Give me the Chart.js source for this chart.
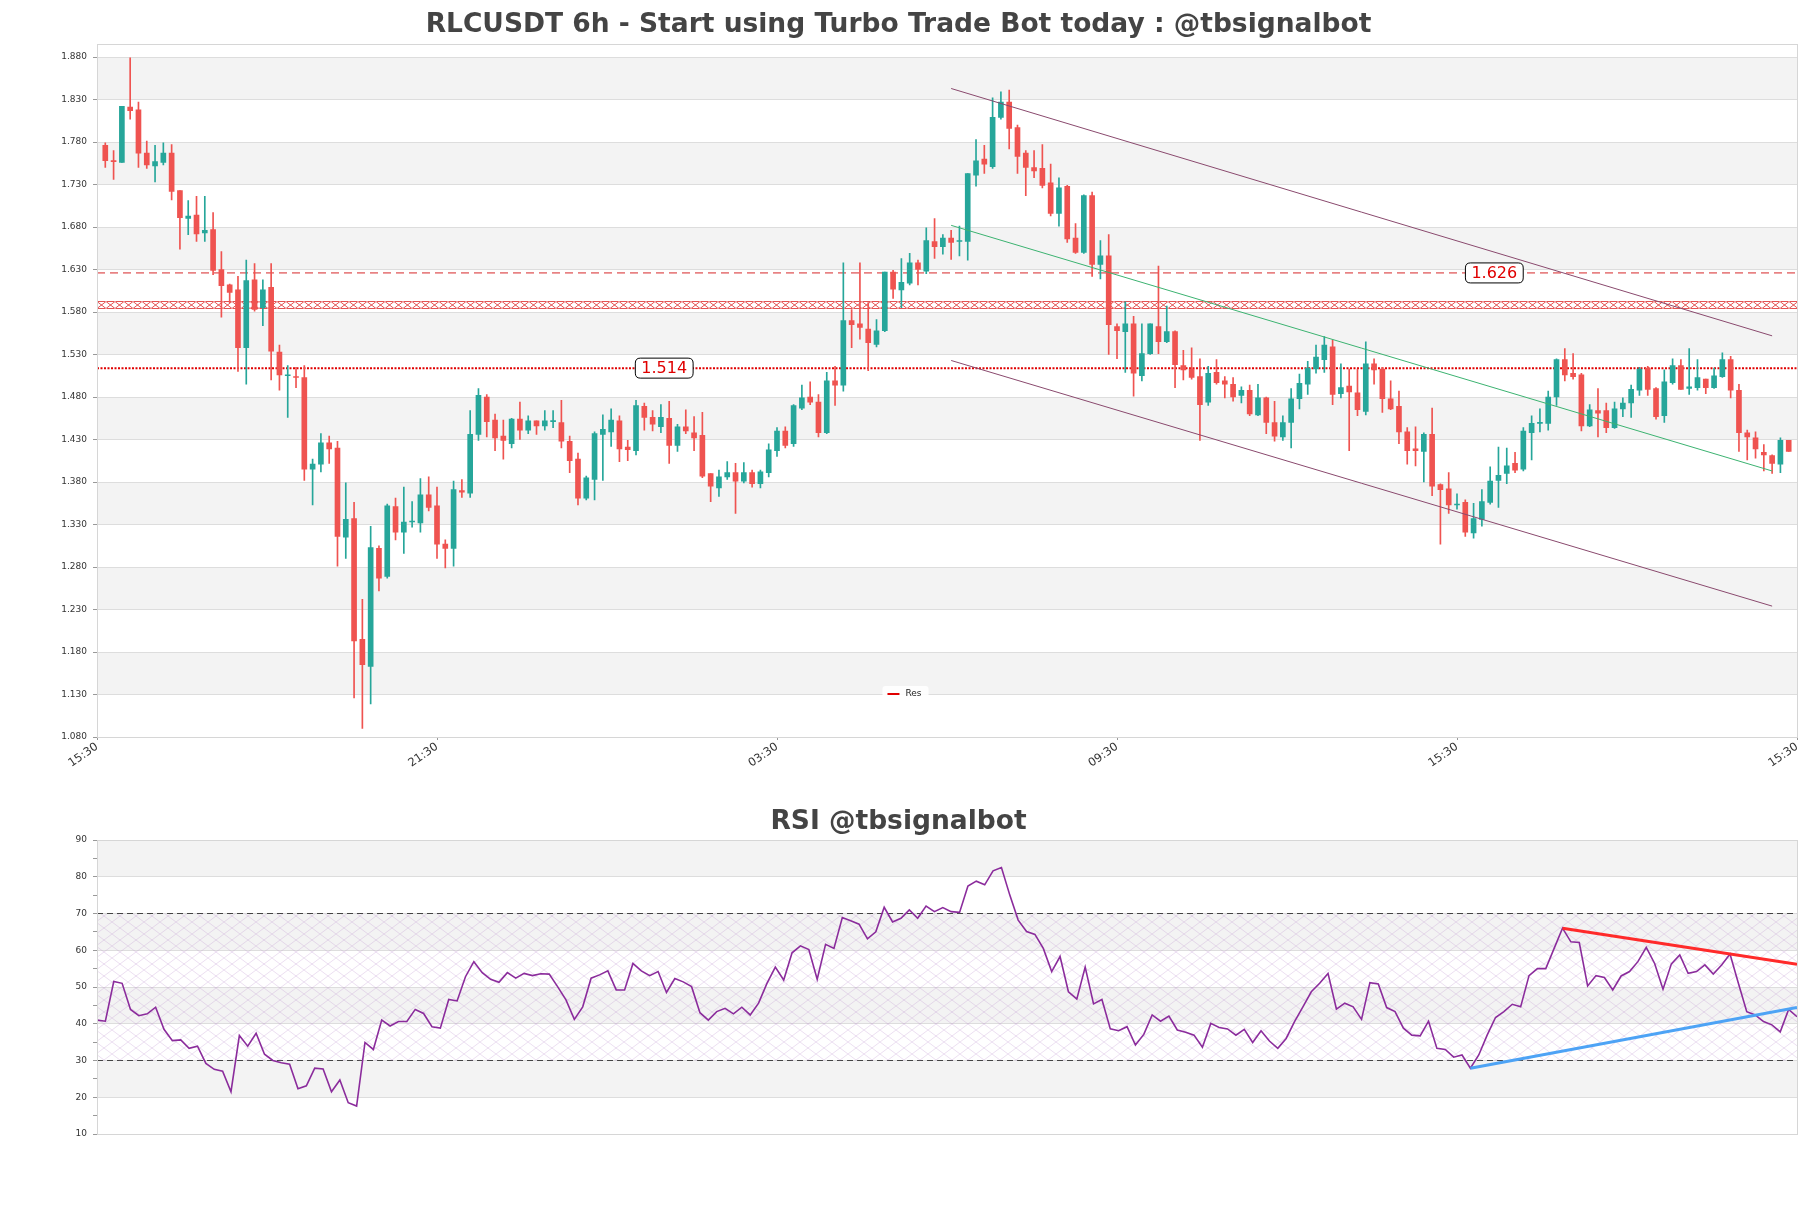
<!DOCTYPE html>
<html><head><meta charset="utf-8">
<script src="https://cdn.jsdelivr.net/npm/chart.js@4.4.0/dist/chart.umd.min.js"></script>
<style>
html,body{margin:0;padding:0;background:#fff;}
#wrap{position:relative;width:1811px;height:1208px;overflow:hidden;}
#c1{position:absolute;left:0;top:0;}
#c2{position:absolute;left:0;top:790px;}
</style></head><body>
<div id="wrap">
<canvas id="c1" width="1811" height="787"></canvas>
<canvas id="c2" width="1811" height="418"></canvas>
</div>
<script>
// ---------- DATA ----------
const candleOpen = [
1.776,1.758,1.756,1.821,1.818,1.767,1.752,1.756,1.767,1.723,
1.690,1.694,1.673,1.677,1.630,1.612,1.606,1.538,1.618,1.585,
1.609,1.533,1.505,1.504,1.503,1.395,1.401,1.426,1.420,1.315,
1.337,1.195,1.163,1.302,1.269,1.351,1.321,1.333,1.332,1.365,
1.352,1.307,1.302,1.370,1.367,1.436,1.480,1.453,1.434,1.425,
1.454,1.441,1.452,1.446,1.451,1.450,1.428,1.407,1.361,1.383,
1.436,1.439,1.452,1.421,1.417,1.469,1.456,1.445,1.455,1.423,
1.445,1.438,1.435,1.390,1.373,1.386,1.391,1.381,1.391,1.378,
1.391,1.417,1.440,1.425,1.467,1.480,1.474,1.438,1.499,1.494,
1.570,1.566,1.560,1.542,1.558,1.627,1.606,1.614,1.638,1.628,
1.663,1.657,1.667,1.663,1.663,1.741,1.760,1.751,1.809,1.827,
1.797,1.767,1.750,1.749,1.732,1.696,1.728,1.667,1.650,1.717,
1.636,1.646,1.563,1.557,1.566,1.505,1.531,1.563,1.545,1.557,
1.517,1.513,1.504,1.474,1.509,1.499,1.495,1.482,1.488,1.459,
1.479,1.450,1.433,1.450,1.478,1.495,1.513,1.524,1.539,1.484,
1.493,1.485,1.463,1.519,1.513,1.478,1.469,1.439,1.419,1.416,
1.436,1.377,1.372,1.353,1.356,1.320,1.336,1.356,1.382,1.390,
1.402,1.395,1.438,1.449,1.449,1.480,1.524,1.508,1.506,1.446,
1.464,1.464,1.444,1.466,1.473,1.488,1.514,1.490,1.458,1.497,
1.517,1.490,1.491,1.501,1.491,1.504,1.524,1.488,1.438,1.432,
1.415,1.411,1.401,1.429];
const candleHigh = [
1.779,1.770,1.822,1.879,1.827,1.781,1.776,1.779,1.777,1.723,
1.711,1.716,1.716,1.697,1.651,1.613,1.622,1.641,1.637,1.618,
1.637,1.541,1.517,1.515,1.517,1.407,1.437,1.434,1.428,1.379,
1.356,1.242,1.328,1.305,1.354,1.361,1.374,1.357,1.384,1.386,
1.374,1.312,1.381,1.383,1.464,1.490,1.483,1.460,1.453,1.455,
1.474,1.458,1.452,1.464,1.464,1.476,1.434,1.414,1.387,1.439,
1.459,1.466,1.458,1.429,1.476,1.473,1.464,1.471,1.475,1.448,
1.465,1.457,1.462,1.390,1.394,1.404,1.402,1.403,1.394,1.394,
1.425,1.444,1.445,1.471,1.494,1.498,1.483,1.509,1.516,1.638,
1.583,1.638,1.591,1.571,1.627,1.629,1.643,1.649,1.641,1.679,
1.690,1.671,1.676,1.681,1.743,1.783,1.776,1.832,1.839,1.841,
1.800,1.770,1.770,1.777,1.754,1.738,1.729,1.684,1.718,1.721,
1.664,1.671,1.566,1.592,1.575,1.566,1.566,1.634,1.587,1.558,
1.535,1.538,1.525,1.516,1.524,1.504,1.503,1.492,1.494,1.495,
1.480,1.475,1.458,1.490,1.507,1.522,1.541,1.551,1.547,1.519,
1.513,1.513,1.545,1.525,1.515,1.499,1.487,1.444,1.445,1.438,
1.467,1.378,1.391,1.366,1.359,1.355,1.371,1.398,1.421,1.420,
1.415,1.444,1.458,1.466,1.487,1.525,1.537,1.531,1.508,1.471,
1.490,1.473,1.474,1.479,1.494,1.515,1.516,1.491,1.512,1.525,
1.524,1.537,1.524,1.501,1.514,1.532,1.528,1.495,1.441,1.439,
1.424,1.412,1.432,1.429];
const candleLow = [
1.750,1.736,1.756,1.807,1.750,1.749,1.733,1.753,1.712,1.654,
1.671,1.663,1.663,1.624,1.574,1.591,1.510,1.495,1.581,1.564,
1.500,1.488,1.456,1.491,1.382,1.353,1.392,1.402,1.281,1.290,
1.126,1.090,1.119,1.252,1.267,1.312,1.296,1.327,1.321,1.346,
1.290,1.279,1.281,1.362,1.362,1.429,1.433,1.417,1.407,1.420,
1.430,1.437,1.436,1.441,1.444,1.420,1.391,1.353,1.359,1.359,
1.382,1.422,1.404,1.405,1.412,1.441,1.440,1.438,1.402,1.416,
1.437,1.417,1.385,1.357,1.363,1.383,1.343,1.379,1.374,1.373,
1.386,1.410,1.420,1.422,1.465,1.471,1.433,1.437,1.470,1.487,
1.538,1.548,1.511,1.539,1.557,1.596,1.585,1.612,1.612,1.625,
1.643,1.648,1.642,1.646,1.641,1.728,1.743,1.749,1.807,1.772,
1.743,1.717,1.738,1.726,1.693,1.681,1.662,1.649,1.649,1.622,
1.619,1.530,1.525,1.509,1.481,1.499,1.530,1.531,1.544,1.491,
1.500,1.501,1.429,1.470,1.495,1.479,1.475,1.473,1.458,1.458,
1.437,1.428,1.429,1.420,1.466,1.483,1.508,1.509,1.471,1.479,
1.417,1.458,1.459,1.495,1.462,1.465,1.425,1.401,1.399,1.380,
1.364,1.307,1.343,1.348,1.316,1.314,1.328,1.354,1.350,1.378,
1.391,1.393,1.406,1.439,1.441,1.470,1.499,1.501,1.440,1.445,
1.433,1.438,1.443,1.457,1.456,1.482,1.482,1.454,1.450,1.495,
1.489,1.483,1.488,1.484,1.490,1.503,1.479,1.416,1.406,1.408,
1.393,1.390,1.391,1.416];
const candleClose = [
1.758,1.757,1.822,1.817,1.767,1.753,1.757,1.767,1.722,1.691,
1.693,1.672,1.676,1.629,1.611,1.603,1.538,1.617,1.583,1.606,
1.534,1.506,1.506,1.503,1.395,1.401,1.426,1.419,1.316,1.336,
1.193,1.165,1.303,1.267,1.352,1.321,1.333,1.334,1.365,1.350,
1.307,1.302,1.371,1.368,1.436,1.482,1.451,1.432,1.429,1.454,
1.441,1.452,1.446,1.452,1.452,1.428,1.405,1.361,1.385,1.437,
1.442,1.453,1.419,1.418,1.470,1.456,1.448,1.456,1.423,1.445,
1.440,1.432,1.387,1.375,1.386,1.391,1.381,1.391,1.378,1.392,
1.418,1.440,1.423,1.470,1.479,1.474,1.438,1.499,1.494,1.570,
1.565,1.562,1.544,1.558,1.627,1.607,1.615,1.638,1.630,1.664,
1.657,1.667,1.662,1.664,1.743,1.758,1.754,1.809,1.827,1.796,
1.763,1.750,1.746,1.729,1.696,1.726,1.666,1.650,1.717,1.636,
1.646,1.565,1.558,1.566,1.508,1.531,1.566,1.545,1.557,1.518,
1.512,1.503,1.471,1.508,1.497,1.495,1.480,1.488,1.460,1.479,
1.450,1.434,1.450,1.478,1.496,1.514,1.527,1.541,1.483,1.491,
1.486,1.465,1.519,1.512,1.478,1.466,1.439,1.417,1.417,1.436,
1.375,1.371,1.353,1.354,1.321,1.337,1.357,1.381,1.388,1.399,
1.394,1.440,1.449,1.450,1.480,1.524,1.506,1.504,1.446,1.465,
1.461,1.444,1.466,1.473,1.489,1.513,1.489,1.457,1.498,1.517,
1.489,1.492,1.503,1.491,1.505,1.524,1.488,1.438,1.433,1.419,
1.412,1.402,1.429,1.416];

const xTickPositions = [-1, 40, 81, 122, 163, 204];
const xTickLabels = ['15:30','21:30','03:30','09:30','15:30','15:30'];
const priceTicks = [1.080,1.130,1.180,1.230,1.280,1.330,1.380,1.430,1.480,1.530,1.580,1.630,1.680,1.730,1.780,1.830,1.880];

const resLevel = 1.514;       // dotted "Res" line
const upperLevel = 1.626;     // dashed line
const zoneLow = 1.5845, zoneHigh = 1.5935;
const levelLabelX = [67.4, 167.5];
const levelLabelY = [1.514, 1.626];

const channelX = [102, 201];
const channelUpper = [1.843, 1.552];
const channelMid = [1.682, 1.393];
const channelLower = [1.523, 1.234];

const rsiValues = [
41.0,40.7,51.5,51.0,43.9,42.2,42.7,44.5,38.5,35.4,
35.6,33.3,33.9,29.2,27.6,27.1,21.5,36.8,33.9,37.4,
31.7,30.0,29.4,29.0,22.3,23.1,27.9,27.7,21.5,24.7,
18.5,17.6,34.9,33.0,41.0,39.4,40.6,40.6,43.9,42.8,
39.2,38.8,46.6,46.2,52.8,56.9,53.9,52.1,51.3,53.9,
52.4,53.7,53.1,53.6,53.5,50.1,46.5,41.2,44.6,52.4,
53.3,54.4,49.2,49.2,56.4,54.4,53.1,54.2,48.5,52.3,
51.4,50.1,43.0,41.0,43.3,44.2,42.7,44.5,42.4,45.6,
51.0,55.4,51.9,59.3,61.2,60.2,52.1,61.6,60.5,68.9,
68.0,67.1,63.1,65.0,71.7,67.7,68.7,71.0,
68.7,72.0,70.5,71.6,70.5,70.3,77.5,78.8,77.8,81.6,
82.5,75.0,68.2,65.1,64.3,60.5,54.2,58.3,48.7,46.7,
55.4,45.4,46.6,38.6,38.1,39.2,34.2,37.1,42.4,40.7,
42.1,38.3,37.7,36.9,33.6,40.1,39.0,38.6,36.9,38.5,
34.9,38.1,35.3,33.3,36.0,40.6,44.6,48.7,51.0,53.7,
44.0,45.6,44.6,41.2,51.2,50.8,44.4,43.3,38.8,36.9,
36.7,40.7,33.3,33.0,30.9,31.5,27.9,31.5,36.9,41.7,
43.3,45.3,44.6,53.1,55.0,55.0,60.5,66.0,62.3,62.1,
50.3,53.1,52.6,49.2,53.0,54.2,56.9,60.8,56.4,49.4,
56.3,58.7,53.7,54.2,56.0,53.5,56.0,59.0,51.0,43.3,
42.4,40.6,39.7,37.8,43.9,41.9];
const rsiTicks = [10,15,20,25,30,35,40,45,50,55,60,65,70,75,80,85,90];
const rsiBandTicks = [10,20,30,40,50,60,70,80,90];
const rsiOverbought = 70, rsiOversold = 30;
const rsiUpperTrendX = [175, 203], rsiUpperTrendY = [66.0, 56.2];
const rsiLowerTrendX = [164, 203], rsiLowerTrendY = [27.9, 44.4];

// ---------- HELPERS ----------
const UP = '#26a69a', DOWN = '#ef5350';
const candleColors = candleOpen.map((o, i) => candleClose[i] >= o ? UP : DOWN);
const idx = candleOpen.map((_, i) => i);
const FONT = '"DejaVu Sans", Arial, sans-serif';

const bandsPlugin = {
  id: 'bands',
  beforeDraw(chart, args, o) {
    const {ctx, chartArea: a, scales: {y}} = chart;
    ctx.save();
    ctx.fillStyle = '#ffffff';
    ctx.fillRect(a.left, a.top, a.width, a.height);
    ctx.fillStyle = '#f3f3f3';
    const t = o.ticks;
    for (let k = 0; k < t.length - 1; k++) {
      if (k % 2 === 1) {
        const y0 = y.getPixelForValue(t[k]), y1 = y.getPixelForValue(t[k + 1]);
        ctx.fillRect(a.left, y1, a.width, y0 - y1);
      }
    }
    ctx.restore();
  },
  afterDraw(chart) {
    const {ctx, chartArea: a} = chart;
    ctx.save();
    ctx.strokeStyle = '#d6d6d6';
    ctx.lineWidth = 1;
    ctx.strokeRect(Math.round(a.left) + 0.5, Math.round(a.top) + 0.5, Math.round(a.width), Math.round(a.height));
    ctx.restore();
  }
};

const zonePlugin = {
  id: 'zone',
  beforeDatasetsDraw(chart, args, o) {
    const {ctx, chartArea: a, scales: {y}} = chart;
    const t = Math.round(y.getPixelForValue(o.high)) + 0.5;
    const b = Math.round(y.getPixelForValue(o.low)) + 0.5;
    ctx.save();
    ctx.beginPath(); ctx.rect(a.left, a.top, a.width, a.height); ctx.clip();
    ctx.strokeStyle = 'rgba(220,40,40,0.8)';
    ctx.lineWidth = 1;
    ctx.beginPath();
    const step = 9;
    for (let x = a.left; x < a.right; x += step) {
      ctx.moveTo(x, t); ctx.lineTo(x + step, b);
      ctx.moveTo(x, b); ctx.lineTo(x + step, t);
      ctx.moveTo(x + 1, t); ctx.lineTo(x + step - 1, t);
      ctx.moveTo(x + 1, b); ctx.lineTo(x + step - 1, b);
    }
    ctx.stroke();
    ctx.restore();
  }
};

function roundRect(ctx, x, y, w, h, r) {
  ctx.beginPath();
  ctx.moveTo(x + r, y);
  ctx.lineTo(x + w - r, y); ctx.quadraticCurveTo(x + w, y, x + w, y + r);
  ctx.lineTo(x + w, y + h - r); ctx.quadraticCurveTo(x + w, y + h, x + w - r, y + h);
  ctx.lineTo(x + r, y + h); ctx.quadraticCurveTo(x, y + h, x, y + h - r);
  ctx.lineTo(x, y + r); ctx.quadraticCurveTo(x, y, x + r, y);
  ctx.closePath();
}

const levelLabelPlugin = {
  id: 'levelLabels',
  afterDatasetsDraw(chart) {
    const {ctx, scales: {x, y}} = chart;
    ctx.save();
    ctx.font = '16px ' + FONT;
    levelLabelX.forEach((lx, i) => {
      const px = x.getPixelForValue(lx), py = y.getPixelForValue(levelLabelY[i]);
      const text = levelLabelY[i].toFixed(3);
      const w = ctx.measureText(text).width + 12, h = 20;
      roundRect(ctx, px - w / 2, py - h / 2, w, h, 5);
      ctx.fillStyle = '#ffffff'; ctx.fill();
      ctx.strokeStyle = '#000000'; ctx.lineWidth = 1; ctx.stroke();
      ctx.fillStyle = '#e00000';
      ctx.textAlign = 'center'; ctx.textBaseline = 'middle';
      ctx.fillText(text, px, py + 1);
    });
    ctx.restore();
  }
};

const resLegendPlugin = {
  id: 'resLegend',
  afterDraw(chart) {
    const {ctx, chartArea: a} = chart;
    const cx = chart.width / 2, cy = a.bottom - 43;
    ctx.save();
    ctx.font = '9px ' + FONT;
    const tw = ctx.measureText('Res').width;
    const w = 12 + 6 + tw + 12, h = 16;
    roundRect(ctx, cx - w / 2, cy - h / 2, w, h, 3);
    ctx.fillStyle = 'rgba(255,255,255,0.9)'; ctx.fill();
    ctx.strokeStyle = '#e00000'; ctx.lineWidth = 2;
    ctx.beginPath(); ctx.moveTo(cx - w / 2 + 5, cy); ctx.lineTo(cx - w / 2 + 17, cy); ctx.stroke();
    ctx.fillStyle = '#222';
    ctx.textAlign = 'left'; ctx.textBaseline = 'middle';
    ctx.fillText('Res', cx - w / 2 + 23, cy);
    ctx.restore();
  }
};

function hLine(v, xr) { return [{x: xr[0], y: v}, {x: xr[1], y: v}]; }
function seg(xs, ys) { return [{x: xs[0], y: ys[0]}, {x: xs[1], y: ys[1]}]; }

// ---------- MAIN CHART ----------
new Chart(document.getElementById('c1'), {
  type: 'bar',
  data: {
    datasets: [
      {type: 'line', label: 'chanUp', data: seg(channelX, channelUpper), borderColor: '#8a4a6e', borderWidth: 1, pointRadius: 0, order: 0},
      {type: 'line', label: 'chanMid', data: seg(channelX, channelMid), borderColor: '#3cb371', borderWidth: 1, pointRadius: 0, order: 0},
      {type: 'line', label: 'chanLow', data: seg(channelX, channelLower), borderColor: '#8a4a6e', borderWidth: 1, pointRadius: 0, order: 0},
      {label: 'body', data: idx.map(i => ({x: i, y: [candleOpen[i], candleClose[i]]})), backgroundColor: candleColors, borderWidth: 0, barThickness: 5, minBarLength: 1, grouped: false, order: 1},
      {label: 'wick', data: idx.map(i => ({x: i, y: [candleLow[i], candleHigh[i]]})), backgroundColor: candleColors, borderWidth: 0, barThickness: 1, grouped: false, order: 2},
      {type: 'line', label: 'Res', data: hLine(resLevel, [-1, 204]), borderColor: '#e00000', borderWidth: 2, borderDash: [2, 1.5], pointRadius: 0, order: 3},
      {type: 'line', label: 'lvl', data: hLine(upperLevel, [-1, 204]), borderColor: '#d62728', borderWidth: 1, borderDash: [8, 5], pointRadius: 0, order: 3}
    ]
  },
  options: {
    responsive: false, animation: false,
    layout: {padding: {left: 0, right: 14, top: 0, bottom: 0}},
    plugins: {
      legend: {display: false}, tooltip: {enabled: false},
      title: {display: true, text: 'RLCUSDT 6h - Start using Turbo Trade Bot today : @tbsignalbot', color: '#444', font: {family: FONT, size: 26.5, weight: 'bold'}, padding: {top: 9, bottom: 3.5}},
      bands: {ticks: priceTicks},
      zone: {low: zoneLow, high: zoneHigh}
    },
    scales: {
      x: {
        type: 'linear', min: -1, max: 204, offset: false,
        afterBuildTicks: s => { s.ticks = xTickPositions.map(v => ({value: v})); },
        afterFit: s => { s.height = 50; },
        ticks: {autoSkip: false, maxRotation: 35, minRotation: 35, color: '#333', padding: 0, font: {family: FONT, size: 11.5}, callback: (v, i) => xTickLabels[i]},
        grid: {display: true, drawOnChartArea: false, offset: false, tickLength: 3, color: '#999'},
        border: {display: false}
      },
      y: {
        type: 'linear', min: 1.080, max: 1.895,
        afterBuildTicks: s => { s.ticks = priceTicks.map(v => ({value: v})); },
        afterFit: s => { s.width = 97; },
        ticks: {color: '#333', font: {family: FONT, size: 9}, padding: 6, callback: v => Number(v).toFixed(3)},
        grid: {color: '#dddddd', tickLength: 4, tickColor: '#999'},
        border: {display: false}
      }
    }
  },
  plugins: [bandsPlugin, zonePlugin, levelLabelPlugin, resLegendPlugin]
});

// ---------- RSI CHART ----------
function makeHatch() {
  const c = document.createElement('canvas'); c.width = 16; c.height = 12;
  const g = c.getContext('2d');
  g.strokeStyle = 'rgba(185,140,205,0.4)'; g.lineWidth = 0.7;
  g.beginPath(); g.moveTo(0, 0); g.lineTo(16, 12); g.moveTo(0, 12); g.lineTo(16, 0); g.stroke();
  return g.createPattern(c, 'repeat');
}
const rsiIdx = rsiValues.map((_, i) => i);
const rsiLast = rsiValues.length - 1;

new Chart(document.getElementById('c2'), {
  type: 'line',
  data: {
    datasets: [
      {label: 'upTrend', data: seg(rsiUpperTrendX, rsiUpperTrendY), borderColor: '#ff2a2a', borderWidth: 3, pointRadius: 0, order: 0},
      {label: 'lowTrend', data: seg(rsiLowerTrendX, rsiLowerTrendY), borderColor: '#4da3f5', borderWidth: 3, pointRadius: 0, order: 0},
      {label: 'RSI', data: rsiIdx.map(i => ({x: i, y: rsiValues[i]})), borderColor: '#8b2c9c', borderWidth: 1.6, pointRadius: 0, tension: 0, order: 1},
      {label: 'ob', data: hLine(rsiOverbought, [0, rsiLast]), borderColor: '#444', borderWidth: 1.2, borderDash: [6, 4], pointRadius: 0, fill: {value: rsiOversold}, backgroundColor: makeHatch(), order: 2},
      {label: 'os', data: hLine(rsiOversold, [0, rsiLast]), borderColor: '#444', borderWidth: 1.2, borderDash: [6, 4], pointRadius: 0, order: 2}
    ]
  },
  options: {
    responsive: false, animation: false,
    layout: {padding: {left: 0, right: 14, top: 0, bottom: 74}},
    plugins: {
      legend: {display: false}, tooltip: {enabled: false},
      title: {display: true, text: 'RSI @tbsignalbot', color: '#444', font: {family: FONT, size: 26.5, weight: 'bold'}, padding: {top: 16.5, bottom: 1.7}},
      bands: {ticks: rsiBandTicks}
    },
    scales: {
      x: {type: 'linear', min: 0, max: rsiLast, display: false},
      y: {
        type: 'linear', min: 10, max: 90,
        afterBuildTicks: s => { s.ticks = rsiTicks.map(v => ({value: v})); },
        afterFit: s => { s.width = 97; },
        ticks: {color: '#333', font: {family: FONT, size: 9}, padding: 6, autoSkip: false, callback: v => (v % 10 === 0 ? String(v) : '')},
        grid: {color: c => (c.tick && c.tick.value % 10 === 0 ? '#dddddd' : 'rgba(0,0,0,0)'), tickColor: '#999', tickLength: 4},
        border: {display: false}
      }
    }
  },
  plugins: [bandsPlugin]
});
</script>
</body></html>
